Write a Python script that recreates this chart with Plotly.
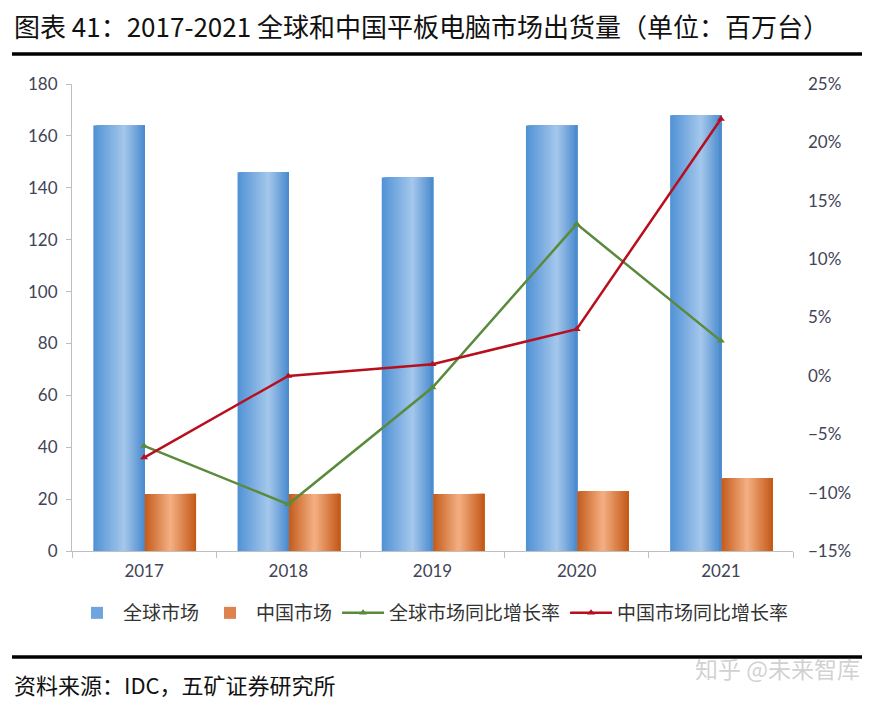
import plotly.graph_objects as go
import numpy as np

# ---- data ----
years = ["2017", "2018", "2019", "2020", "2021"]
global_market = [164, 146, 144, 164, 168]          # 百万台
china_market = [22, 22, 22, 23, 28]                # 百万台
global_yoy = [-0.06, -0.11, -0.01, 0.13, 0.03]
china_yoy = [-0.07, 0.00, 0.01, 0.04, 0.22]

# ---- layout constants (page body has an 8px margin) ----
OFF = 8
W, H = 878 - OFF, 704 - OFF
ML, MR, MT, MB = 72 - OFF, 85, 84 - OFF, 153
PW = W - ML - MR
PH = H - MT - MB

def px_x(x):
    return (x - OFF - ML) / PW

def px_y(y):
    return (H - MB - (y - OFF)) / PH

def interp_color(stops, t):
    ts = [s[0] for s in stops]
    cols = np.array([s[1] for s in stops], dtype=float)
    r = np.interp(t, ts, cols[:, 0])
    g = np.interp(t, ts, cols[:, 1])
    b = np.interp(t, ts, cols[:, 2])
    return f"rgb({int(r)},{int(g)},{int(b)})"

blue_stops = [(0.0, (80, 146, 214)), (0.6, (166, 200, 236)), (1.0, (72, 138, 206))]
orange_stops = [(0.0, (196, 92, 28)), (0.5, (245, 176, 132)), (1.0, (196, 88, 22))]

fig = go.Figure()

K = 32
bw = 0.356

def add_gradient_bars(values, name, start, stops, legend_color):
    step = bw / K
    for i in range(K):
        t = (i + 0.5) / K
        fig.add_trace(go.Bar(
            x=years, y=values, name=name,
            offset=start + i * step, width=bw - i * step,
            marker=dict(color=interp_color(stops, t), line=dict(width=0)),
            showlegend=False, hoverinfo="skip",
            legendgroup=name,
        ))
    # legend-only entry
    fig.add_trace(go.Bar(
        x=years, y=[None] * len(years), name=name,
        marker=dict(color=legend_color, line=dict(width=0)),
        showlegend=True, legendgroup=name,
    ))

add_gradient_bars(global_market, "全球市场", -0.352, blue_stops, "rgb(110,165,222)")
add_gradient_bars(china_market, "中国市场", 0.004, orange_stops, "rgb(222,130,80)")

fig.add_trace(go.Scatter(
    x=years, y=global_yoy, name="全球市场同比增长率", yaxis="y2",
    mode="lines+markers",
    line=dict(color="#5A8A3C", width=2.5),
    marker=dict(symbol="triangle-up", size=7, color="#5A8A3C"),
))
fig.add_trace(go.Scatter(
    x=years, y=china_yoy, name="中国市场同比增长率", yaxis="y2",
    mode="lines+markers",
    line=dict(color="#B80F1F", width=2.5),
    marker=dict(symbol="triangle-up", size=7, color="#B80F1F"),
))

tick_font = dict(family="Lato, 'DejaVu Sans', sans-serif", size=17, color="#3F4456")
cjk = "'Noto Sans CJK SC', sans-serif"

fig.update_layout(
    width=W, height=H,
    margin=dict(l=ML, r=MR, t=MT, b=MB, autoexpand=False),
    paper_bgcolor="white", plot_bgcolor="white",
    barmode="overlay",
    xaxis=dict(
        type="category", range=[-0.5, 4.5],
        showline=True, linecolor="#BFBFBF", linewidth=1,
        ticks="outside", tickson="boundaries", ticklen=6, tickcolor="#BFBFBF",
        tickfont=tick_font, showgrid=False, zeroline=False,
        ticklabelstandoff=5,
    ),
    yaxis=dict(
        range=[0, 180], dtick=20,
        showline=True, linecolor="#BFBFBF", linewidth=1,
        ticks="outside", ticklen=5, tickcolor="#BFBFBF",
        tickfont=tick_font, showgrid=False, zeroline=False,
        ticklabelstandoff=5,
    ),
    yaxis2=dict(
        overlaying="y", side="right",
        range=[-0.15, 0.25], dtick=0.05, tickformat=".0%",
        showline=False, ticks="", showgrid=False, zeroline=False,
        tickfont=tick_font, ticklabelstandoff=14,
    ),
    legend=dict(
        orientation="h", x=0.5, xanchor="center",
        y=px_y(613), yanchor="middle",
        font=dict(family=cjk, size=19, color="#333333"),
        itemwidth=42, traceorder="normal", tracegroupgap=0,
    ),
    font=dict(family=cjk),
    showlegend=True,
)

# title
fig.add_annotation(
    text="图表 41：2017-2021 全球和中国平板电脑市场出货量（单位：百万台）",
    xref="paper", yref="paper", x=px_x(12), y=px_y(26),
    xanchor="left", yanchor="middle", showarrow=False,
    font=dict(family=cjk, size=26, color="#111111"),
)
# source
fig.add_annotation(
    text="资料来源：IDC，五矿证券研究所",
    xref="paper", yref="paper", x=px_x(12), y=px_y(684),
    xanchor="left", yanchor="middle", showarrow=False,
    font=dict(family=cjk, size=22, color="#111111"),
)
# watermark
fig.add_annotation(
    text="知乎 @未来智库",
    xref="paper", yref="paper", x=px_x(862), y=px_y(668),
    xanchor="right", yanchor="middle", showarrow=False,
    font=dict(family=cjk, size=23, color="rgba(150,150,150,0.45)"),
)

# rules
for yy, lw in [(54, 3.5), (657, 3.5)]:
    fig.add_shape(
        type="line", xref="paper", yref="paper",
        x0=px_x(12), x1=px_x(862), y0=px_y(yy), y1=px_y(yy),
        line=dict(color="black", width=lw),
    )

fig.write_html("out.html")
